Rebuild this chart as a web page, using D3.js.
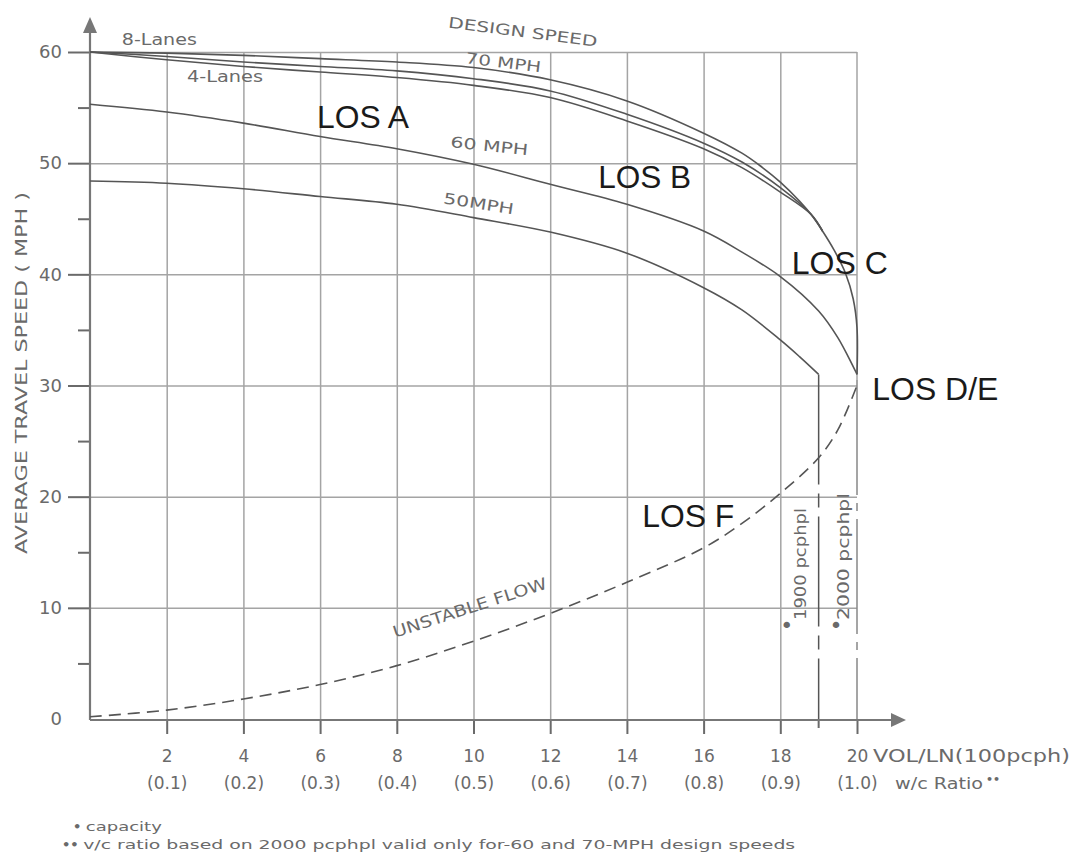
<!DOCTYPE html>
<html>
<head>
<meta charset="utf-8">
<script src="https://cdn.jsdelivr.net/npm/d3@7"></script>
<style>
  body { margin: 0; background: #fff; }
  svg { display: block; }
</style>
</head>
<body>
<svg id="chart"></svg>
<script>
// axis ticks
var speedTicks = [0, 10, 20, 30, 40, 50, 60];
var minorTicks = [5, 15, 25, 35, 45, 55];
var volTicks = [2, 4, 6, 8, 10, 12, 14, 16, 18, 20];
var ratioLabels = ["(0.1)", "(0.2)", "(0.3)", "(0.4)", "(0.5)", "(0.6)", "(0.7)", "(0.8)", "(0.9)", "(1.0)"];

// 70 mph design speed curves (8, 6, 4 lanes)
var lanes8Vol = [0, 2, 4, 6, 8, 10, 12, 14, 16, 17, 17.5, 18, 18.5, 18.8, 19.1, 19.4, 19.7, 19.9, 20, 20];
var lanes8Spd = [60, 59.9, 59.7, 59.4, 59.1, 58.6, 57.5, 55.6, 52.7, 50.9, 49.7, 48.3, 46.6, 45.4, 43.9, 42.2, 40.1, 37.8, 35.2, 31];
var lanes6Vol = [0, 2, 4, 6, 8, 10, 12, 14, 16, 17, 18, 18.8, 19.1];
var lanes6Spd = [60, 59.6, 59.1, 58.7, 58.3, 57.6, 56.5, 54.4, 51.8, 50.1, 47.8, 45.4, 43.9];
var lanes4Vol = [0, 2, 4, 6, 8, 10, 12, 14, 16, 17, 18, 18.8, 19.1];
var lanes4Spd = [60, 59.3, 58.7, 58.2, 57.7, 57.0, 55.9, 53.8, 51.3, 49.6, 47.4, 45.4, 43.9];

// 60 mph and 50 mph design speeds
var mph60Vol = [0, 2, 4, 6, 8, 10, 12, 14, 16, 17, 18, 19, 19.5, 20];
var mph60Spd = [55.3, 54.6, 53.6, 52.4, 51.3, 49.9, 48.1, 46.3, 43.9, 42.0, 39.8, 36.7, 34.3, 31.0];
var mph50Vol = [0, 2, 4, 6, 8, 10, 12, 14, 16, 17, 18, 18.5, 19];
var mph50Spd = [48.4, 48.2, 47.7, 47.0, 46.3, 45.1, 43.8, 41.9, 38.8, 36.8, 34.1, 32.6, 31.0];

// unstable flow (dashed)
var flowVol = [0, 2, 4, 6, 8, 10, 12, 14, 16, 17, 18, 19, 19.5, 20];
var flowSpd = [0.2, 0.8, 1.8, 3.1, 4.8, 7.0, 9.5, 12.3, 15.4, 17.6, 20.3, 23.5, 26.0, 30.0];

// capacity lines (1900 and 2000 pcphpl)
var capacityVol = [19, 20];
var capacitySpd = [31, 30.5];

var width = 1074, height = 857;
var gray = "#6a6a6a", gridColor = "#a4a4a4", curveColor = "#555";
var labelFont = "'DejaVu Sans', sans-serif";

// set the ranges
var x = d3.scaleLinear().domain([0, 20]).range([90, 857]);
var y = d3.scaleLinear().domain([0, 60]).range([719, 52]);

var svg = d3.select("#chart")
    .attr("width", width)
    .attr("height", height);

// vertical grid lines (2..18)
svg.append("g")
    .attr("transform", "translate(0," + y(0) + ")")
    .call(d3.axisBottom(x).tickValues(volTicks.slice(0, -1)).tickSize(-(y(0) - y(60))).tickFormat(""))
    .call(function(g){ g.select(".domain").remove(); })
    .selectAll("line").attr("stroke", gridColor).attr("stroke-width", 1.5);

// horizontal grid lines
svg.append("g")
    .attr("transform", "translate(" + x(0) + ",0)")
    .call(d3.axisLeft(y).tickValues(speedTicks.slice(1)).tickSize(-(x(20) - x(0))).tickFormat(""))
    .call(function(g){ g.select(".domain").remove(); })
    .selectAll("line").attr("stroke", gridColor).attr("stroke-width", 1.5);

// right border at 20, solid down to capacity point
svg.append("line")
    .attr("x1", x(20)).attr("x2", x(20))
    .attr("y1", y(60)).attr("y2", y(capacitySpd[1]))
    .attr("stroke", gridColor).attr("stroke-width", 1.5);

// capacity lines, dash-dot
svg.selectAll(".cap")
    .data(d3.zip(capacityVol, capacitySpd))
    .enter().append("line")
    .attr("class", "cap")
    .attr("x1", function(d){ return x(d[0]); })
    .attr("x2", function(d){ return x(d[0]); })
    .attr("y1", function(d){ return y(d[1]); })
    .attr("y2", y(0))
    .attr("stroke", function(d, i){ return i == 0 ? curveColor : "#888"; })
    .attr("stroke-width", 1.5)
    .attr("stroke-dasharray", function(d, i){ return i == 0 ? "110,9,14,9" : "115,8,8,8"; });

// y ticks
svg.append("g")
    .attr("transform", "translate(" + x(0) + ",0)")
    .call(d3.axisLeft(y).tickValues(speedTicks).tickSize(22).tickPadding(6))
    .call(function(g){ g.select(".domain").remove(); })
    .call(function(g){ g.selectAll(".tick").filter(function(d){ return d == 0; }).select("line").remove(); })
    .attr("color", gray)
    .attr("font-family", labelFont)
    .attr("font-size", 18)
    .selectAll("line").attr("stroke-width", 2);

svg.append("g")
    .attr("transform", "translate(" + x(0) + ",0)")
    .call(d3.axisLeft(y).tickValues(minorTicks).tickSize(12).tickFormat(""))
    .call(function(g){ g.select(".domain").remove(); })
    .attr("color", gray)
    .selectAll("line").attr("stroke-width", 2);

// x ticks and labels
var xAxis = svg.append("g")
    .attr("transform", "translate(0," + (y(0) + 1) + ")")
    .call(d3.axisBottom(x).tickValues(volTicks).tickSize(14).tickPadding(16))
    .call(function(g){ g.select(".domain").remove(); })
    .attr("color", gray)
    .attr("font-family", labelFont)
    .attr("font-size", 17);
xAxis.selectAll("line").attr("stroke-width", 2);
xAxis.selectAll(".tick").append("text")
    .attr("fill", "currentColor")
    .attr("y", 69)
    .text(function(d, i){ return ratioLabels[i]; });

svg.append("line")
    .attr("x1", x(19)).attr("x2", x(19))
    .attr("y1", y(0)).attr("y2", y(0) + 9)
    .attr("stroke", gray).attr("stroke-width", 2);

// axis lines with arrows
var x0 = x(0), y0 = y(0) + 1;
svg.append("path")
    .attr("d", "M" + x0 + "," + y0 + "V32M" + x0 + "," + y0 + "H892")
    .attr("fill", "none").attr("stroke", "#777").attr("stroke-width", 2.2);
svg.append("path")
    .attr("d", "M" + x0 + ",17L" + (x0 - 7) + ",33L" + (x0 + 7) + ",33Z")
    .attr("fill", "#777");
svg.append("path")
    .attr("d", "M906," + y0 + "L891," + (y0 - 7) + "L891," + (y0 + 7) + "Z")
    .attr("fill", "#777");

// define the curve line
var valueline = d3.line()
    .curve(d3.curveCatmullRom.alpha(0.5))
    .x(function(d){ return x(d[0]); })
    .y(function(d){ return y(d[1]); });

var curves = [
    [lanes8Vol, lanes8Spd],
    [lanes6Vol, lanes6Spd],
    [lanes4Vol, lanes4Spd],
    [mph60Vol, mph60Spd],
    [mph50Vol, mph50Spd]
];
curves.forEach(function(c){
    svg.append("path")
        .data([d3.zip(c[0], c[1])])
        .attr("d", valueline)
        .attr("fill", "none")
        .attr("stroke", curveColor)
        .attr("stroke-width", 1.6);
});

svg.append("path")
    .data([d3.zip(flowVol, flowSpd)])
    .attr("d", valueline)
    .attr("fill", "none")
    .attr("stroke", curveColor)
    .attr("stroke-width", 1.6)
    .attr("stroke-dasharray", "12,7");

// text labels
function label(vx, vy, txt, opt){
    var t = svg.append("text")
        .attr("transform", "translate(" + x(vx) + "," + y(vy) + ") rotate(" + (opt.rot || 0) + ")")
        .attr("font-family", opt.font || labelFont)
        .attr("font-size", opt.size)
        .attr("fill", opt.color || gray)
        .attr("text-anchor", opt.anchor || "start")
        .text(txt);
    if (opt.len) t.attr("textLength", opt.len).attr("lengthAdjust", "spacingAndGlyphs");
    return t;
}

var losFont = "'Liberation Sans', Arial, sans-serif";
label(5.92, 53.2, "LOS A", {size: 31, font: losFont, color: "#1a1a1a", len: 92});
label(13.25, 47.8, "LOS B", {size: 31, font: losFont, color: "#1a1a1a", len: 93});
label(18.3, 40.0, "LOS C", {size: 31, font: losFont, color: "#1a1a1a", len: 96});
label(20.4, 28.7, "LOS D/E", {size: 31, font: losFont, color: "#1a1a1a", len: 126});
label(14.4, 17.3, "LOS F", {size: 31, font: losFont, color: "#1a1a1a", len: 92});

label(0.83, 60.6, "8-Lanes", {size: 15, len: 75});
label(2.53, 57.3, "4-Lanes", {size: 15, len: 76});
label(9.33, 62.2, "DESIGN SPEED", {size: 15, rot: 7.3, len: 150});
label(9.78, 59.0, "70 MPH", {size: 15, rot: 7, len: 76});
label(9.39, 51.45, "60 MPH", {size: 15, rot: 6, len: 78});
label(9.2, 46.4, "50MPH", {size: 15, rot: 9, len: 71});
label(7.95, 7.3, "UNSTABLE FLOW", {size: 16, rot: -18, len: 161});

label(18.67, 8.9, "1900 pcphpl", {size: 16, rot: -90, len: 112});
label(19.79, 8.9, "2000 pcphpl", {size: 16, rot: -90, len: 127});
label(18.17, 7.7, "\u2022", {size: 22, anchor: "middle"});
label(19.45, 7.7, "\u2022", {size: 22, anchor: "middle"});

// axis titles
svg.append("text")
    .attr("transform", "translate(27,373) rotate(-90)")
    .attr("text-anchor", "middle")
    .attr("font-family", labelFont).attr("font-size", 16).attr("fill", gray)
    .attr("textLength", 362).attr("lengthAdjust", "spacingAndGlyphs")
    .text("AVERAGE TRAVEL SPEED ( MPH )");

svg.append("text")
    .attr("x", 873).attr("y", 762)
    .attr("font-family", labelFont).attr("font-size", 18).attr("fill", gray)
    .attr("textLength", 197).attr("lengthAdjust", "spacingAndGlyphs")
    .text("VOL/LN(100pcph)");
svg.append("text")
    .attr("x", 895).attr("y", 789)
    .attr("font-family", labelFont).attr("font-size", 15).attr("fill", gray)
    .attr("textLength", 88).attr("lengthAdjust", "spacingAndGlyphs")
    .text("w/c Ratio");
svg.append("text")
    .attr("x", 986).attr("y", 783)
    .attr("font-family", labelFont).attr("font-size", 11).attr("font-weight", "bold").attr("fill", gray)
    .text("\u2022\u2022");

// footnotes, one text per line
var note1 = svg.append("text")
    .attr("x", 73).attr("y", 831)
    .attr("font-family", labelFont).attr("font-size", 13).attr("fill", gray);
note1.append("tspan").attr("font-weight", "bold").text("\u2022 ");
note1.append("tspan")
    .attr("textLength", 76).attr("lengthAdjust", "spacingAndGlyphs")
    .text("capacity");

var note2 = svg.append("text")
    .attr("x", 62).attr("y", 849)
    .attr("font-family", labelFont).attr("font-size", 13).attr("fill", gray);
note2.append("tspan").attr("font-weight", "bold").text("\u2022\u2022 ");
note2.append("tspan")
    .attr("textLength", 712).attr("lengthAdjust", "spacingAndGlyphs")
    .text("v/c ratio based on 2000 pcphpl  valid only for-60 and 70-MPH design speeds");
</script>
</body>
</html>
